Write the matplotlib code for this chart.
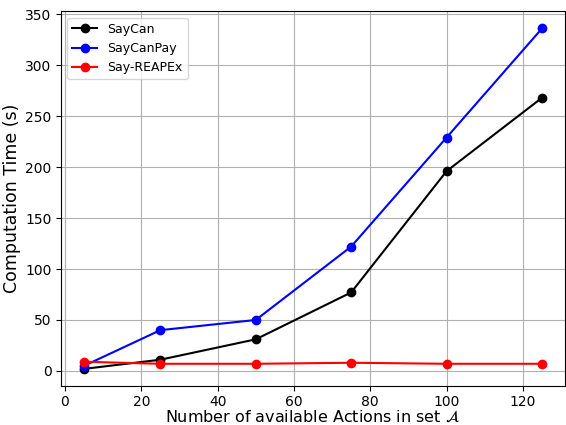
import matplotlib
matplotlib.use("Agg")
import matplotlib.pyplot as plt

actions = [5, 25, 50, 75, 100, 125]
saycan = [2, 11, 31, 77, 196, 268]
saycanpay = [5, 40, 50, 122, 229, 336]
say_reapex = [9, 7, 7, 8, 7, 7]

fig, ax = plt.subplots(figsize=(5.66, 4.25), dpi=100)
ax.plot(actions, saycan, color="black", marker="o", label="SayCan")
ax.plot(actions, saycanpay, color="blue", marker="o", label="SayCanPay")
ax.plot(actions, say_reapex, color="red", marker="o", label="Say-REAPEx")
ax.grid(True)
ax.tick_params(axis="x", pad=3)
ax.set_xlabel(r"Number of available Actions in set $\mathcal{A}$", fontsize=11.5, labelpad=0)
ax.set_ylabel("Computation Time (s)", fontsize=12.5, labelpad=3)
ax.legend(loc="upper left", fontsize=9)
fig.subplots_adjust(left=0.108, right=0.998, top=0.973, bottom=0.092)
fig.savefig("out.png")
